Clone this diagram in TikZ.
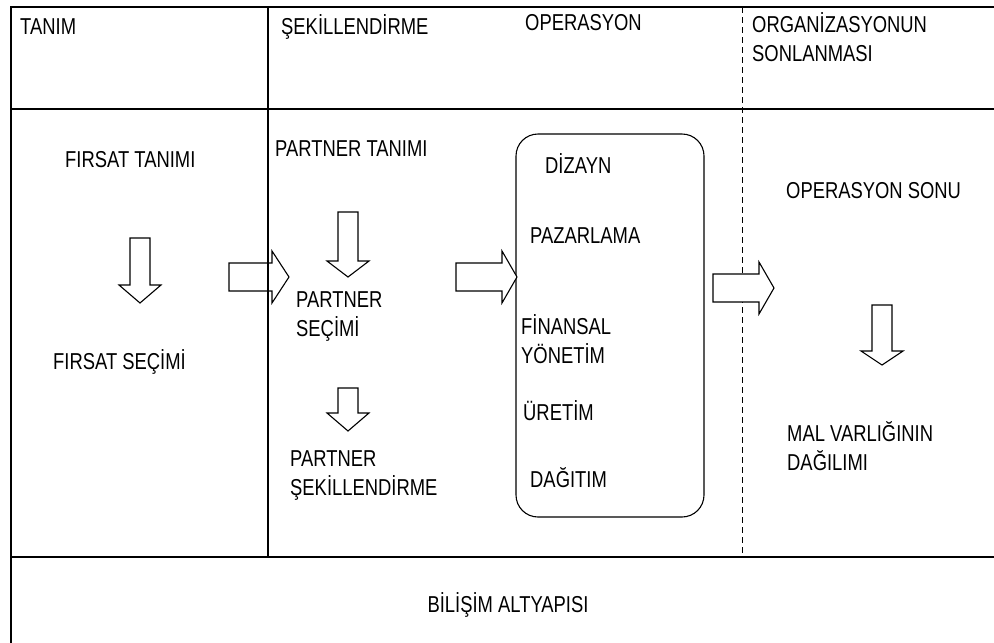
\documentclass[tikz,border=0pt]{standalone}
\usepackage{fontspec}
\setmainfont{Liberation Sans}[FakeStretch=0.8]
\usetikzlibrary{positioning}
\tikzset{
  frameline/.style={draw=black, line width=1.6pt},
  phaseline/.style={draw=black, line width=2.2pt},
  splitline/.style={draw=black, line width=1pt, dash pattern=on 6pt off 4pt},
  blockarr/.style={draw=black, fill=white, line width=1.1pt, line join=miter},
  opbox/.style={draw=black, line width=1.1pt, rounded corners=22pt},
  lbl/.style={font=\fontsize{23}{29}\selectfont, inner sep=0pt, anchor=base west, align=left},
}
% down block arrow: x, top, shoulder, tip
\newcommand{\blockdown}[4]{%
  \draw[blockarr] (#1-10,#2) -- (#1+10,#2) -- (#1+10,#3) -- (#1+21,#3) -- (#1,#4)
    -- (#1-21,#3) -- (#1-10,#3) -- cycle;}
% right block arrow: left, shoulder, tip, y
\newcommand{\blockright}[4]{%
  \draw[blockarr] (#1,#4-14) -- (#2,#4-14) -- (#2,#4-26) -- (#3,#4) -- (#2,#4+26)
    -- (#2,#4+14) -- (#1,#4+14) -- cycle;}

\begin{document}
\begin{tikzpicture}[x=1pt,y=-1pt]
\useasboundingbox (0,0) rectangle (994,643);
% frame
\draw[frameline] (11,643) -- (11,7) -- (994,7);
\draw[frameline] (11,109) -- (994,109);
\draw[frameline] (11,557) -- (994,557);
\draw[splitline] (742,7) -- (742,557);
% operation box
\draw[opbox] (516,134) rectangle (704,517);
% arrows
\blockdown{140}{238}{285}{303}
\blockdown{348}{212}{261}{277}
\blockdown{348}{388}{413}{431}
\blockdown{882}{305}{351}{365}
\blockright{229}{272}{289}{277}
\blockright{456}{502}{517}{277}
\blockright{713}{759}{774}{288}
\draw[phaseline] (268,7) -- (268,557);
% header
\node[lbl] (tanim) at (20,34) {TANIM};
\node[lbl] (sekil) at (281,34) {ŞEKİLLENDİRME};
\node[lbl] (oper) at (525,30) {OPERASYON};
\node[lbl] (sonlan) at (752,61) {ORGANİZASYONUN\\SONLANMASI};
% phase 1
\node[lbl] (ftanim) at (65,167) {FIRSAT TANIMI};
\node[lbl] (fsecim) at (53,369) {FIRSAT SEÇİMİ};
% phase 2
\node[lbl] (ptanim) at (275,156) {PARTNER TANIMI};
\node[lbl] (psecim) at (296,336) {PARTNER\\SEÇİMİ};
\node[lbl] (psekil) at (290,495) {PARTNER\\ŞEKİLLENDİRME};
% phase 3
\node[lbl] (dizayn) at (545,173) {DİZAYN};
\node[lbl] (pazar) at (530,243) {PAZARLAMA};
\node[lbl] (finans) at (521,363) {FİNANSAL\\YÖNETİM};
\node[lbl] (uretim) at (523,420) {ÜRETİM};
\node[lbl] (dagitim) at (530,487) {DAĞITIM};
% phase 4
\node[lbl] (opsonu) at (786,198) {OPERASYON SONU};
\node[lbl] (malvar) at (787,470) {MAL VARLIĞININ\\DAĞILIMI};
% infrastructure
\node[lbl, anchor=base] (bilisim) at (508,612) {BİLİŞİM ALTYAPISI};
\end{tikzpicture}
\end{document}
